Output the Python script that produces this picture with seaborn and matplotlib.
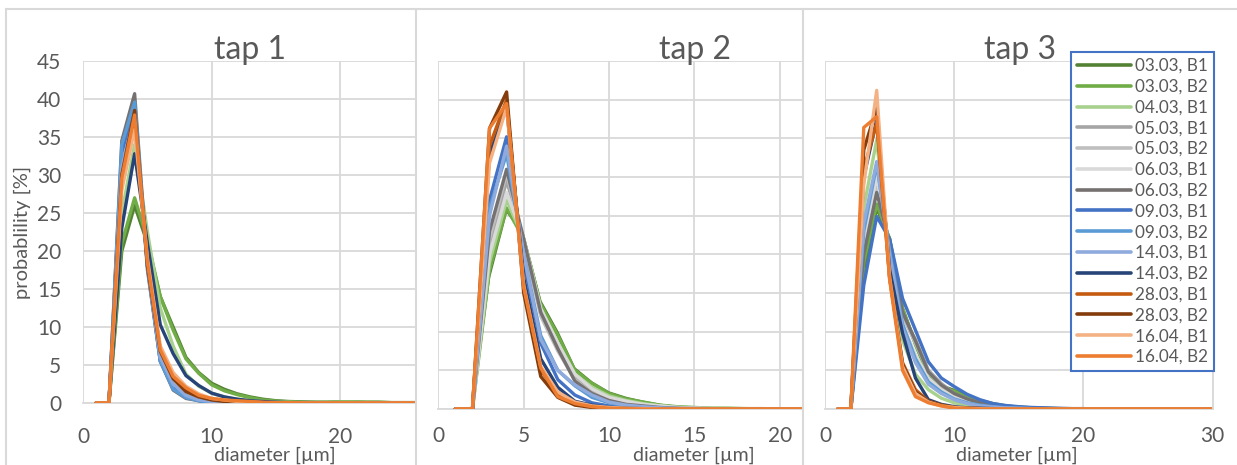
import matplotlib
matplotlib.use("Agg")
import matplotlib.pyplot as plt
import seaborn as sns
import pandas as pd
from matplotlib.lines import Line2D

# ---------------- data ----------------
diameter = list(range(1, 31))

series_labels = ["03.03, B1", "03.03, B2", "04.03, B1", "05.03, B1", "05.03, B2",
                 "06.03, B1", "06.03, B2", "09.03, B1", "09.03, B2", "14.03, B1",
                 "14.03, B2", "28.03, B1", "28.03, B2", "16.04, B1", "16.04, B2"]
series_colors = ["#548235", "#70AD47", "#A9D18E", "#A5A5A5", "#BFBFBF",
                 "#D9D9D9", "#767171", "#4472C4", "#5B9BD5", "#8FAADC",
                 "#264478", "#C55A11", "#843C0C", "#F4B183", "#ED7D31"]

panel_titles = ["tap 1", "tap 2", "tap 3"]

# tap 1
t1_0303_B1 = [0, 0, 20, 26, 21, 14, 10, 6, 4, 2.6, 1.8, 1.2, 0.8, 0.5, 0.3, 0.2, 0.15, 0.1, 0.1, 0.15, 0.15, 0.1, 0.1, 0.05, 0.05, 0.05, 0, 0, 0, 0]
t1_0303_B2 = [0, 0, 21, 27, 21.5, 14, 9.6, 5.8, 3.9, 2.4, 1.6, 1.1, 0.7, 0.4, 0.25, 0.15, 0.1, 0.1, 0.1, 0.15, 0.15, 0.1, 0.1, 0.05, 0.05, 0.05, 0, 0, 0, 0]
t1_0403_B1 = [0, 0, 25, 34, 22.5, 12.5, 7.5, 3.8, 2.2, 1.3, 0.8, 0.5, 0.3, 0.2, 0.1, 0.1, 0.05, 0.05, 0.05, 0.1, 0.1, 0.05, 0.05, 0, 0, 0, 0, 0, 0, 0]
t1_0503_B1 = [0, 0, 31, 37, 19, 7, 3, 1.3, 0.6, 0.3, 0.2, 0.1, 0.05, 0.05, 0, 0, 0, 0, 0, 0, 0, 0, 0, 0, 0, 0, 0, 0, 0, 0]
t1_0503_B2 = [0, 0, 32, 38, 19, 6.5, 2.5, 1.0, 0.5, 0.3, 0.15, 0.1, 0.05, 0, 0, 0, 0, 0, 0, 0, 0, 0, 0, 0, 0, 0, 0, 0, 0, 0]
t1_0603_B1 = [0, 0, 30, 36, 19, 7, 3, 1.5, 0.7, 0.4, 0.2, 0.1, 0.05, 0, 0, 0, 0, 0, 0, 0, 0, 0, 0, 0, 0, 0, 0, 0, 0, 0]
t1_0603_B2 = [0, 0, 34.5, 40.7, 18, 5.5, 1.7, 0.6, 0.3, 0.1, 0.05, 0, 0, 0, 0, 0, 0, 0, 0, 0, 0, 0, 0, 0, 0, 0, 0, 0, 0, 0]
t1_0903_B1 = [0, 0, 33, 39, 17.5, 5.5, 2, 0.8, 0.3, 0.1, 0.05, 0, 0, 0, 0, 0, 0, 0, 0, 0, 0, 0, 0, 0, 0, 0, 0, 0, 0, 0]
t1_0903_B2 = [0, 0, 34, 39.6, 18, 5.5, 1.8, 0.7, 0.3, 0.1, 0.05, 0, 0, 0, 0, 0, 0, 0, 0, 0, 0, 0, 0, 0, 0, 0, 0, 0, 0, 0]
t1_1403_B1 = [0, 0, 31, 38, 18, 6, 2.5, 1.0, 0.4, 0.2, 0.1, 0.05, 0, 0, 0, 0, 0, 0, 0, 0, 0, 0, 0, 0, 0, 0, 0, 0, 0, 0]
t1_1403_B2 = [0, 0, 23, 32.8, 21, 10.3, 6.5, 3.6, 2.3, 1.3, 0.8, 0.5, 0.3, 0.2, 0.1, 0.05, 0.05, 0.05, 0, 0, 0, 0, 0, 0, 0, 0, 0, 0, 0, 0]
t1_2803_B1 = [0, 0, 29, 37, 18.5, 7, 3.5, 1.8, 0.9, 0.5, 0.3, 0.2, 0.1, 0.05, 0, 0, 0, 0, 0, 0, 0, 0, 0, 0, 0, 0, 0, 0, 0, 0]
t1_2803_B2 = [0, 0, 30, 38.5, 18, 6.8, 3.2, 1.5, 0.8, 0.4, 0.2, 0.1, 0.05, 0, 0, 0, 0, 0, 0, 0, 0, 0, 0, 0, 0, 0, 0, 0, 0, 0]
t1_1604_B1 = [0, 0, 28, 36, 19, 7.5, 4, 2.2, 1.2, 0.6, 0.4, 0.2, 0.1, 0.05, 0, 0, 0, 0, 0, 0, 0, 0, 0, 0, 0, 0, 0, 0, 0, 0]
t1_1604_B2 = [0, 0, 29.6, 37.9, 18.5, 7, 3.5, 2.0, 1.0, 0.6, 0.4, 0.3, 0.2, 0.1, 0.05, 0.05, 0, 0, 0, 0, 0, 0, 0, 0, 0, 0, 0, 0, 0, 0]

# tap 2
t2_0303_B1 = [0, 0, 17, 25.5, 22.5, 14, 10, 5.3, 3.5, 2.2, 1.5, 1.0, 0.6, 0.35, 0.2, 0.15, 0.1, 0.1, 0.05, 0.05, 0, 0, 0, 0, 0, 0, 0, 0, 0, 0]
t2_0303_B2 = [0, 0, 18, 26, 22, 13.5, 9.5, 5, 3.3, 2, 1.3, 0.9, 0.5, 0.3, 0.2, 0.1, 0.1, 0.05, 0.05, 0, 0, 0, 0, 0, 0, 0, 0, 0, 0, 0]
t2_0403_B1 = [0, 0, 19, 27, 22, 13, 8.5, 4.5, 2.8, 1.7, 1.1, 0.7, 0.4, 0.25, 0.15, 0.1, 0.05, 0.05, 0, 0, 0, 0, 0, 0, 0, 0, 0, 0, 0, 0]
t2_0503_B1 = [0, 0, 21, 29.5, 22, 12.4, 8, 4, 2.3, 1.3, 0.8, 0.5, 0.3, 0.2, 0.1, 0.05, 0.05, 0, 0, 0, 0, 0, 0, 0, 0, 0, 0, 0, 0, 0]
t2_0503_B2 = [0, 0, 22, 30.5, 21.5, 12, 7.5, 3.8, 2, 1.2, 0.7, 0.4, 0.25, 0.15, 0.1, 0.05, 0, 0, 0, 0, 0, 0, 0, 0, 0, 0, 0, 0, 0, 0]
t2_0603_B1 = [0, 0, 20, 28, 22, 13, 8.5, 4.5, 2.6, 1.5, 1.0, 0.6, 0.4, 0.2, 0.1, 0.05, 0.05, 0, 0, 0, 0, 0, 0, 0, 0, 0, 0, 0, 0, 0]
t2_0603_B2 = [0, 0, 23, 31, 22, 12.5, 7.8, 3.6, 2, 1.1, 0.6, 0.4, 0.2, 0.1, 0.05, 0, 0, 0, 0, 0, 0, 0, 0, 0, 0, 0, 0, 0, 0, 0]
t2_0903_B1 = [0, 0, 27, 35.2, 19, 8.5, 3.8, 1.8, 0.8, 0.4, 0.2, 0.1, 0.05, 0, 0, 0, 0, 0, 0, 0, 0, 0, 0, 0, 0, 0, 0, 0, 0, 0]
t2_0903_B2 = [0, 0, 26, 33, 20, 9.5, 5, 3, 1.5, 0.8, 0.4, 0.2, 0.1, 0.05, 0, 0, 0, 0, 0, 0, 0, 0, 0, 0, 0, 0, 0, 0, 0, 0]
t2_1403_B1 = [0, 0, 25, 34, 20, 9, 5, 3.1, 1.8, 0.9, 0.5, 0.3, 0.15, 0.05, 0, 0, 0, 0, 0, 0, 0, 0, 0, 0, 0, 0, 0, 0, 0, 0]
t2_1403_B2 = [0, 0, 33, 39, 17, 6.5, 2.8, 1.0, 0.5, 0.2, 0.1, 0.05, 0, 0, 0, 0, 0, 0, 0, 0, 0, 0, 0, 0, 0, 0, 0, 0, 0, 0]
t2_2803_B1 = [0, 0, 34, 40, 16, 5, 2, 0.7, 0.3, 0.1, 0.05, 0, 0, 0, 0, 0, 0, 0, 0, 0, 0, 0, 0, 0, 0, 0, 0, 0, 0, 0]
t2_2803_B2 = [0, 0, 36.3, 41, 15, 4.2, 1.5, 0.5, 0.2, 0.1, 0.05, 0, 0, 0, 0, 0, 0, 0, 0, 0, 0, 0, 0, 0, 0, 0, 0, 0, 0, 0]
t2_1604_B1 = [0, 0, 31.8, 39, 16, 5.5, 2.2, 0.9, 0.4, 0.2, 0.1, 0.05, 0, 0, 0, 0, 0, 0, 0, 0, 0, 0, 0, 0, 0, 0, 0, 0, 0, 0]
t2_1604_B2 = [0, 0, 36.3, 39.5, 15.8, 5.3, 1.6, 0.7, 0.3, 0.1, 0.05, 0, 0, 0, 0, 0, 0, 0, 0, 0, 0, 0, 0, 0, 0, 0, 0, 0, 0, 0]

# tap 3
t3_0303_B1 = [0, 0, 18, 26, 22, 13, 8.5, 4.5, 3, 2.4, 1.6, 1.1, 0.7, 0.4, 0.25, 0.15, 0.1, 0.05, 0.05, 0, 0, 0, 0, 0, 0, 0, 0, 0, 0, 0]
t3_0303_B2 = [0, 0, 19, 26.5, 22, 13, 8.3, 4.3, 2.8, 2.3, 1.5, 1.0, 0.6, 0.35, 0.2, 0.1, 0.05, 0.05, 0, 0, 0, 0, 0, 0, 0, 0, 0, 0, 0, 0]
t3_0403_B1 = [0, 0, 26, 34.8, 19, 8.9, 4.5, 2.5, 1.4, 0.8, 0.5, 0.3, 0.15, 0.1, 0.05, 0, 0, 0, 0, 0, 0, 0, 0, 0, 0, 0, 0, 0, 0, 0]
t3_0503_B1 = [0, 0, 21, 29.2, 21, 12, 9, 5, 3.3, 2, 1.3, 0.8, 0.5, 0.3, 0.15, 0.1, 0.05, 0, 0, 0, 0, 0, 0, 0, 0, 0, 0, 0, 0, 0]
t3_0503_B2 = [0, 0, 21, 28.5, 21, 12, 8.5, 4.8, 3, 1.9, 1.2, 0.7, 0.4, 0.25, 0.15, 0.1, 0.05, 0, 0, 0, 0, 0, 0, 0, 0, 0, 0, 0, 0, 0]
t3_0603_B1 = [0, 0, 22, 30, 21, 11, 7, 4, 2.5, 1.5, 1.0, 0.6, 0.35, 0.2, 0.1, 0.05, 0, 0, 0, 0, 0, 0, 0, 0, 0, 0, 0, 0, 0, 0]
t3_0603_B2 = [0, 0, 20, 28, 21.5, 12.5, 8.8, 4.8, 3.1, 2, 1.3, 0.8, 0.5, 0.3, 0.15, 0.1, 0.05, 0, 0, 0, 0, 0, 0, 0, 0, 0, 0, 0, 0, 0]
t3_0903_B1 = [0, 0, 16, 24.9, 22, 14.3, 10.2, 6.1, 4, 2.9, 1.9, 1.2, 0.7, 0.45, 0.3, 0.2, 0.15, 0.1, 0.05, 0.05, 0, 0, 0, 0, 0, 0, 0, 0, 0, 0]
t3_0903_B2 = [0, 0, 23, 31.6, 20.5, 11, 6.5, 3.5, 2.2, 1.3, 0.8, 0.5, 0.3, 0.15, 0.1, 0.05, 0, 0, 0, 0, 0, 0, 0, 0, 0, 0, 0, 0, 0, 0]
t3_1403_B1 = [0, 0, 24, 32, 20, 10.5, 6, 3.2, 2, 1.2, 0.7, 0.4, 0.25, 0.15, 0.1, 0.05, 0, 0, 0, 0, 0, 0, 0, 0, 0, 0, 0, 0, 0, 0]
t3_1403_B2 = [0, 0, 30, 37.4, 18, 9.8, 4, 1.2, 0.6, 0.3, 0.15, 0.1, 0.05, 0, 0, 0, 0, 0, 0, 0, 0, 0, 0, 0, 0, 0, 0, 0, 0, 0]
t3_2803_B1 = [0, 0, 31, 37, 17, 6, 2.5, 1.0, 0.5, 0.2, 0.1, 0.05, 0, 0, 0, 0, 0, 0, 0, 0, 0, 0, 0, 0, 0, 0, 0, 0, 0, 0]
t3_2803_B2 = [0, 0, 33.5, 38.9, 17, 5.8, 2.2, 1.0, 0.5, 0.2, 0.1, 0.05, 0, 0, 0, 0, 0, 0, 0, 0, 0, 0, 0, 0, 0, 0, 0, 0, 0, 0]
t3_1604_B1 = [0, 0, 29, 41.2, 17, 5.5, 2, 0.9, 0.4, 0.2, 0.1, 0.05, 0, 0, 0, 0, 0, 0, 0, 0, 0, 0, 0, 0, 0, 0, 0, 0, 0, 0]
t3_1604_B2 = [0, 0, 36.4, 37.8, 16.7, 5, 1.6, 0.8, 0.4, 0.1, 0.05, 0, 0, 0, 0, 0, 0, 0, 0, 0, 0, 0, 0, 0, 0, 0, 0, 0, 0, 0]

tap1 = [t1_0303_B1, t1_0303_B2, t1_0403_B1, t1_0503_B1, t1_0503_B2, t1_0603_B1, t1_0603_B2,
        t1_0903_B1, t1_0903_B2, t1_1403_B1, t1_1403_B2, t1_2803_B1, t1_2803_B2, t1_1604_B1, t1_1604_B2]
tap2 = [t2_0303_B1, t2_0303_B2, t2_0403_B1, t2_0503_B1, t2_0503_B2, t2_0603_B1, t2_0603_B2,
        t2_0903_B1, t2_0903_B2, t2_1403_B1, t2_1403_B2, t2_2803_B1, t2_2803_B2, t2_1604_B1, t2_1604_B2]
tap3 = [t3_0303_B1, t3_0303_B2, t3_0403_B1, t3_0503_B1, t3_0503_B2, t3_0603_B1, t3_0603_B2,
        t3_0903_B1, t3_0903_B2, t3_1403_B1, t3_1403_B2, t3_2803_B1, t3_2803_B2, t3_1604_B1, t3_1604_B2]

x_ticks = [[0, 10, 20], [0, 5, 10, 15, 20], [0, 10, 20, 30]]
x_limits = [(0, 25.85), (0, 21.3), (0, 30)]
y_ticks = [0, 5, 10, 15, 20, 25, 30, 35, 40, 45]

# ---------------- style ----------------
sns.set_theme(style="white")
plt.rcParams["font.family"] = ["Lato", "DejaVu Sans"]
TXT = "#595959"
GRID = "#D9D9D9"

W, H = 1237, 465
fig = plt.figure(figsize=(W / 100, H / 100), dpi=100)
fig.patch.set_facecolor("white")


def px_axes(l, t, r, b):
    return fig.add_axes([l / W, 1 - b / H, (r - l) / W, (b - t) / H])


boxes = [(83.3, 61, 415, 403), (438.3, 61, 802, 409), (825, 61, 1212.7, 409)]
palette = dict(zip(series_labels, series_colors))

axes = []
for i, (data, box) in enumerate(zip([tap1, tap2, tap3], boxes)):
    ax = px_axes(*box)
    rows = []
    for lab, vals in zip(series_labels, data):
        for xv, yv in zip(diameter, vals):
            rows.append({"diameter": xv, "probability": yv, "series": lab})
    df = pd.DataFrame(rows)
    sns.lineplot(data=df, x="diameter", y="probability", hue="series",
                 hue_order=series_labels, palette=palette, linewidth=2.4,
                 estimator=None, sort=False, legend=False, ax=ax)
    if i == 1:
        ax.get_lines()[0].set_linewidth(1.0)
    ax.set_xlim(*x_limits[i])
    ax.set_ylim(0, 45)
    ax.set_xticks(x_ticks[i])
    ax.set_yticks(y_ticks)
    ax.grid(True, color=GRID, linewidth=1.3)
    ax.set_axisbelow(True)
    for s in ax.spines.values():
        s.set_visible(False)
    ax.spines["bottom"].set_visible(True)
    ax.spines["bottom"].set_color(GRID)
    ax.spines["bottom"].set_linewidth(1.3)
    ax.spines["bottom"].set_zorder(0.5)
    if i == 2:
        ax.spines["right"].set_visible(True)
        ax.spines["right"].set_color(GRID)
        ax.spines["right"].set_linewidth(1.3)
    ax.tick_params(axis="both", length=0, labelsize=15, colors=TXT)
    ax.tick_params(axis="x", pad=17 if i == 0 else 12)
    ax.tick_params(axis="y", pad=16)
    if i > 0:
        ax.set_yticklabels([])
    ax.set_xlabel("")
    ax.set_ylabel("")
    axes.append(ax)

# titles and axis titles
title_x = [250, 695, 1020]
xlabel_x = [275, 694, 1017]
for i in range(3):
    fig.text(title_x[i] / W, 1 - 50 / H, panel_titles[i], ha="center", va="center",
             fontsize=23, color=TXT)
    fig.text(xlabel_x[i] / W, 1 - 460.5 / H, "diameter [µm]", ha="center", va="baseline",
             fontsize=14, color=TXT)
fig.text(22 / W, 1 - 232 / H, "probablility [%]", ha="center", va="center",
         rotation=90, fontsize=14.5, color=TXT)

# chart area borders
for (x0, y0, x1, y1) in [(6, 9, W, 9), (6, 9, 6, H), (416, 9, 416, H), (803, 9, 803, H)]:
    fig.add_artist(Line2D([x0 / W, x1 / W], [1 - y0 / H, 1 - y1 / H], transform=fig.transFigure,
                          color=GRID, linewidth=1.5))

# legend
handles = [Line2D([0], [0], color=c, linewidth=2.6) for c in series_colors]
leg = fig.legend(handles, series_labels, loc="upper left",
                 bbox_to_anchor=(1070.7 / W, 1 - 52 / H), bbox_transform=fig.transFigure,
                 borderaxespad=0, frameon=True, fancybox=False, framealpha=1,
                 edgecolor="#4472C4", fontsize=12.3, labelspacing=0.28, handlelength=3.2,
                 handletextpad=0.2, borderpad=0.35)
leg.get_frame().set_linewidth(1.5)
for t in leg.get_texts():
    t.set_color(TXT)

fig.savefig("out.png", dpi=100, facecolor="white")
